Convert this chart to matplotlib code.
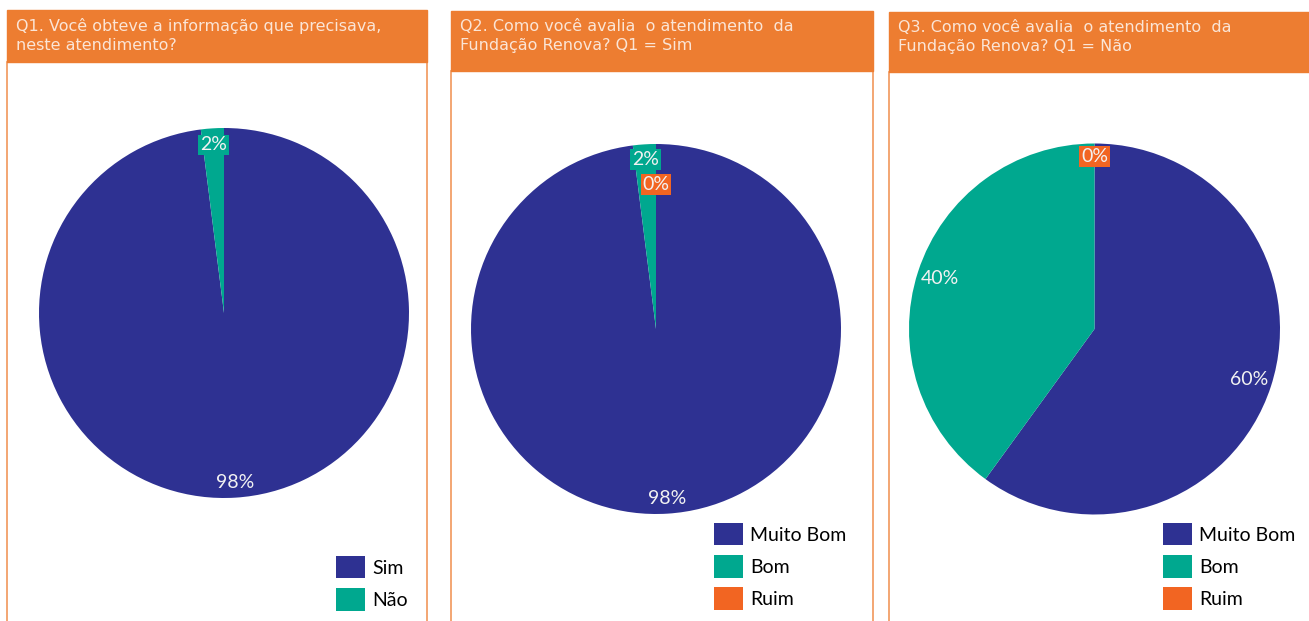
import matplotlib.pyplot as plt
from matplotlib.patches import Rectangle
from matplotlib.lines import Line2D
import numpy as np

W, H = 1309, 621

# survey answers (percent)
q1_labels = ['Sim', 'Não']
q1_values = [98, 2]
q2_labels = ['Muito Bom', 'Bom', 'Ruim']
q2_values = [98, 2, 0]
q3_labels = ['Muito Bom', 'Bom', 'Ruim']
q3_values = [60, 40, 0]

titles = ['Q1. Você obteve a informação que precisava,\nneste atendimento?',
          'Q2. Como você avalia  o atendimento  da\nFundação Renova? Q1 = Sim',
          'Q3. Como você avalia  o atendimento  da\nFundação Renova? Q1 = Não']

NAVY = '#2e3192'
TEAL = '#00a88f'
ORANGE = '#f26522'
HEADER = '#ed7d31'
colors = [NAVY, TEAL, ORANGE]


def fx(x):
    return x / W


def fy(y):
    return 1 - y / H


fig = plt.figure(figsize=(W / 100, H / 100), dpi=100)

# panel frames: (left, right, header top, header bottom)
panels = [(7, 427, 10, 62), (451, 873, 11, 71), (889, 1312, 12, 72)]
for (l, r, t, b), title in zip(panels, titles):
    fig.patches.append(Rectangle((fx(l), fy(b)), fx(r - l), (b - t) / H,
                                 transform=fig.transFigure, color=HEADER, zorder=0))
    for xx in (l, r):
        fig.lines.append(Line2D([fx(xx), fx(xx)], [fy(b), 0], transform=fig.transFigure,
                                color=HEADER, lw=1.2, alpha=0.8))
    fig.text(fx(l + 9), fy(t + 8), title, ha='left', va='top', fontsize=11.5,
             color='#fbe5d6', family='DejaVu Sans', linespacing=1.3)


def draw_pie(cx, cy, r, values, label_pos, legend_labels, legend_xy):
    ax = fig.add_axes([fx(cx - r), fy(cy + r), 2 * r / W, 2 * r / H])
    wedges, _ = ax.pie(values, colors=colors[:len(values)], startangle=90,
                       counterclock=False, radius=1)
    ax.set_xlim(-1, 1)
    ax.set_ylim(-1, 1)
    ax.axis('off')
    for w, v, frac in zip(wedges, values, label_pos):
        mid = np.deg2rad((w.theta1 + w.theta2) / 2)
        x, y = frac * np.cos(mid), frac * np.sin(mid)
        box = None
        if v < 5:
            box = dict(boxstyle='square,pad=0.1', fc=w.get_facecolor(), ec='none')
        ax.text(x, y, f'{v}%', ha='center', va='center', fontsize=14,
                color='#f2f2f2', family='Lato', bbox=box, zorder=5)
    fig.legend(wedges, legend_labels, loc='upper left',
               bbox_to_anchor=(fx(legend_xy[0]), fy(legend_xy[1])),
               frameon=False, prop=dict(family='Lato', size=14),
               handlelength=1.5, handleheight=1.4, handletextpad=0.35,
               labelspacing=0.5, borderpad=0, borderaxespad=0)


draw_pie(224, 313, 185, q1_values, [0.92, 0.91], q1_labels, (336, 556))
draw_pie(656, 329, 185, q2_values, [0.92, 0.92, 0.78], q2_labels, (714, 523))
draw_pie(1094.5, 329, 185.5, q3_values, [0.875, 0.875, 0.93], q3_labels, (1163, 523))

fig.savefig('out.png', dpi=100)
